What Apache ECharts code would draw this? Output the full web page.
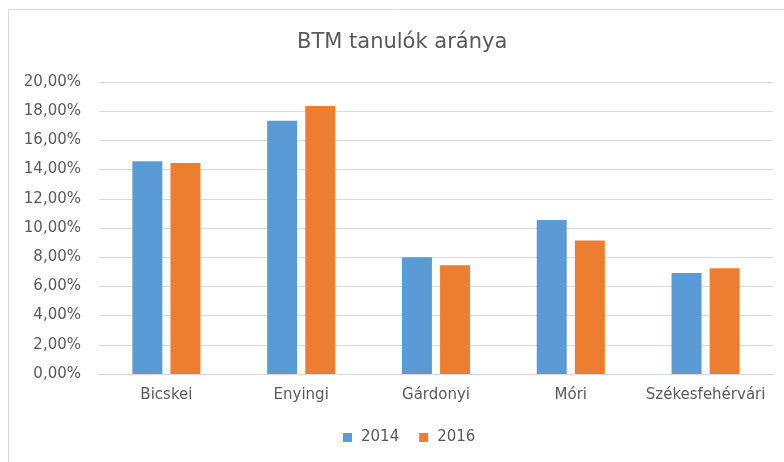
<!DOCTYPE html>
<html>
<head>
<meta charset="utf-8">
<script src="https://cdn.jsdelivr.net/npm/echarts@6/dist/echarts.min.js"></script>
<style>
  html, body { margin: 0; padding: 0; background: #fff; }
  #chart { width: 784px; height: 462px; }
</style>
</head>
<body>
<div id="chart"></div>
<script>
// Share of BTM pupils per district, 2014 vs 2016 (percent)
const categories = ['Bicskei', 'Enyingi', 'Gárdonyi', 'Móri', 'Székesfehérvári'];
const years = ['2014', '2016'];
const values2014 = [14.58, 17.35, 8.0, 10.55, 6.92];
const values2016 = [14.45, 18.36, 7.45, 9.14, 7.25];
const yTicks = { min: 0, max: 20, interval: 2 };

const textColor = '#595959';
const fontFamily = '"DejaVu Sans", "Noto Sans", sans-serif';

const chart = echarts.init(document.getElementById('chart'), null, { renderer: 'canvas' });

const fmtPct = v => v.toFixed(2).replace('.', ',') + '%';

chart.setOption({
  animation: false,
  backgroundColor: '#ffffff',
  textStyle: { fontFamily: fontFamily },
  title: {
    text: 'BTM tanulók aránya',
    left: 292,
    top: 27,
    textStyle: { color: textColor, fontSize: 21, fontWeight: 'normal', fontFamily: fontFamily }
  },
  graphic: [{
    type: 'rect',
    shape: { x: 8.5, y: 9.5, width: 820, height: 520 },
    style: { fill: 'none', stroke: '#d9d9d9', lineWidth: 1 },
    silent: true
  }],
  legend: {
    data: years,
    bottom: 12,
    left: 338,
    itemWidth: 9,
    itemHeight: 9,
    itemGap: 20,
    icon: 'rect',
    textStyle: { color: textColor, fontSize: 15, padding: [0, 0, 0, 4], fontFamily: fontFamily }
  },
  grid: { left: 99, right: 11, top: 82, bottom: 88, containLabel: false },
  xAxis: {
    type: 'category',
    data: categories,
    axisLine: { show: true, lineStyle: { color: '#d9d9d9' } },
    axisTick: { show: false },
    axisLabel: { color: textColor, fontSize: 15, margin: 14, interval: 0, fontFamily: fontFamily }
  },
  yAxis: {
    type: 'value',
    min: yTicks.min,
    max: yTicks.max,
    interval: yTicks.interval,
    axisLine: { show: false },
    axisTick: { show: false },
    splitLine: { lineStyle: { color: '#d9d9d9', width: 1 } },
    axisLabel: { color: textColor, fontSize: 15, margin: 18, formatter: fmtPct, fontFamily: fontFamily }
  },
  series: [
    {
      name: years[0],
      type: 'bar',
      data: values2014,
      barWidth: 30,
      barGap: '27%',
      itemStyle: { color: '#5B9BD5' }
    },
    {
      name: years[1],
      type: 'bar',
      data: values2016,
      barWidth: 30,
      itemStyle: { color: '#ED7D31' }
    }
  ]
});
</script>
</body>
</html>
